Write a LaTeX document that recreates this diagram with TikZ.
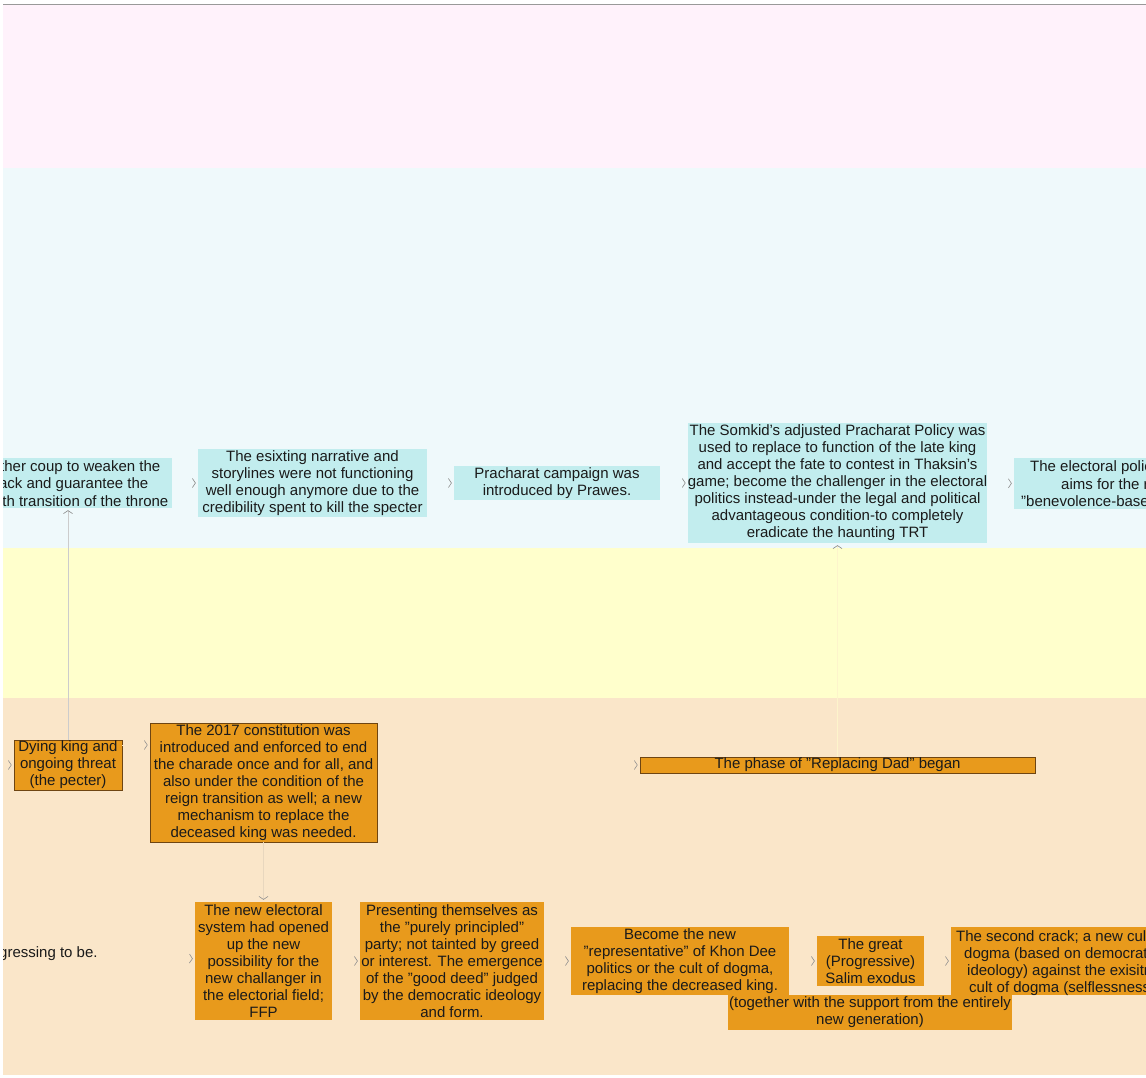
\documentclass[tikz,border=0pt]{standalone}
\usepackage{fontspec}
\setmainfont{Liberation Sans}
\usetikzlibrary{arrows.meta,calc}

\definecolor{pinkband}{HTML}{FFF2FB}
\definecolor{cyanband}{HTML}{EFF9FB}
\definecolor{yellowband}{HTML}{FFFFCC}
\definecolor{peachband}{HTML}{FAE6C9}
\definecolor{cyanbox}{HTML}{C2EDEE}
\definecolor{orangebox}{HTML}{E89A1C}
\definecolor{orangeedge}{HTML}{6E4512}
\definecolor{ink}{HTML}{1A1A1A}
\definecolor{tipgray}{HTML}{8C8C8C}

\newcommand\boxfont{\fontsize{15}{17}\selectfont}

\tikzset{
  x=1pt, y=-1pt,
  >={Straight Barb[length=3pt,width=9pt,line width=0.6pt,color=tipgray]},
  cbox/.style={fill=cyanbox, draw=none, align=center, inner sep=0pt,
    font=\boxfont, text=ink},
  obox/.style={fill=orangebox, draw=none, align=center, inner sep=0pt,
    font=\boxfont, text=ink},
  oedge/.style={obox, draw=orangeedge, line width=0.7pt},
  frag/.style={inner sep=0pt, font=\boxfont, text=ink},
  link/.style={->, draw=#1, line width=0.6pt, shorten >=2pt},
  link/.default=cyanband
}

\begin{document}
\begin{tikzpicture}
\useasboundingbox (0,0) rectangle (1146,1078);

% frame rule on top
\draw[gray!80, line width=1pt] (3,4.5) -- (1146,4.5);

\begin{scope}
\clip (3,5) rectangle (1146,1075);

% swim lanes
\fill[pinkband]   (3,5)   rectangle (1146,168);
\fill[cyanband]   (3,168) rectangle (1146,548);
\fill[yellowband] (3,548) rectangle (1146,698);
\fill[peachband]  (3,698) rectangle (1146,1075);

% ---- upper lane ----
\node[cbox, minimum width=169pt, minimum height=50pt] (b1) at (87.5,483) {};
\node[frag, anchor=east] (b1a) at (160.5,467.5) {ther coup to weaken the};
\node[frag, anchor=east] (b1b) at (148.5,484.5) {ack and guarantee the};
\node[frag, anchor=east] (b1c) at (168.5,501.5) {th transition of the throne};

\node[cbox, minimum width=229pt, minimum height=68pt] (b2) at (312.5,483)
  {The esixting narrative and\\storylines were not functioning\\well enough anymore due to the\\credibility spent to kill the specter};

\node[cbox, minimum width=206pt, minimum height=34pt] (b3) at (557,483)
  {Pracharat campaign was\\introduced by Prawes.};

\node[cbox, minimum width=299pt, minimum height=120pt] (b4) at (837.5,483)
  {The Somkid's adjusted Pracharat Policy was\\used to replace to function of the late king\\and accept the fate to contest in Thaksin's\\game; become the challenger in the electoral\\politics instead-under the legal and political\\advantageous condition-to completely\\eradicate the haunting TRT};

\node[cbox, minimum width=132pt, minimum height=51pt] (b5) at (1080,483.5) {};
\node[frag, anchor=west] (b5a) at (1030,467.5) {The electoral polic};
\node[frag, anchor=west] (b5b) at (1061,484.5) {aims for the r};
\node[frag, anchor=west] (b5c) at (1021,501.5) {"benevolence-base};

% ---- lower lane ----
\node[oedge, minimum width=108pt, minimum height=50pt] (dying) at (68,765)
  {Dying king and\\ongoing threat\\(the pecter)};

\node[oedge, minimum width=227pt, minimum height=119pt] (const) at (263.5,782.5)
  {The 2017 constitution was\\introduced and enforced to end\\the charade once and for all, and\\also under the condition of the\\reign transition as well; a new\\mechanism to replace the\\deceased king was needed.};

\node[oedge, minimum width=395pt, minimum height=16pt] (phase) at (837.5,765)
  {The phase of "Replacing Dad" began};

\node[frag, anchor=west] (prog) at (-1,954) {gressing to be.};

\node[obox, minimum width=137pt, minimum height=118pt] (newel) at (263.5,961)
  {The new electoral\\system had opened\\up the new\\possibility for the\\new challanger in\\the electorial field;\\FFP};

\node[obox, minimum width=184pt, minimum height=118pt] (present) at (452,961)
  {Presenting themselves as\\the "purely principled"\\party; not tainted by greed\\or interest. The emergence\\of the "good deed" judged\\by the democratic ideology\\and form.};

\node[obox, minimum width=284pt, minimum height=35pt] (together) at (870,1012.5)
  {(together with the support from the entirely\\new generation)};

\node[obox, minimum width=218pt, minimum height=68pt] (become) at (680,961)
  {Become the new\\"representative" of Khon Dee\\politics or the cult of dogma,\\replacing the decreased king.};

\node[obox, minimum width=107pt, minimum height=50pt] (great) at (870.5,961)
  {The great\\(Progressive)\\Salim exodus};

\node[obox, minimum width=195pt, minimum height=68pt] (crack) at (1048.5,961) {};
\node[frag, anchor=west] (cra) at (956,937.5) {The second crack; a new cul};
\node[frag, anchor=west] (crb) at (964,954.5) {dogma (based on democrat};
\node[frag, anchor=west] (crc) at (967,971.5) {ideology) against the exisitr};
\node[frag, anchor=west] (crd) at (969,988.5) {cult of dogma (selflessness};

% ---- connectors ----
\coordinate (dyingin) at (-30,765);
\coordinate (phasein) at (590,765);

\draw[link] (b1) -- (b2);
\draw[link] (b2) -- (b3);
\draw[link] (b3) -- (b4);
\draw[link] (b4) -- (b5);

\draw[link=gray!40] (dying.north) -- (dying.north |- b1.south);
\draw[link=peachband] (dyingin) -- (dying.west);
\draw[link=peachband] (dying.east |- 0,745) -- (const.west |- 0,745);
\draw[link=peachband!85!gray] (const.south) -- (newel.north);
\draw[link=peachband] (phasein) -- (phase.west);
\draw[link=yellowband!55!peachband, line width=0.4pt] (phase.north) -- (b4.south);

\draw[link=peachband] (prog) -- (newel);
\draw[link=peachband] (newel) -- (present);
\draw[link=peachband] (present) -- (become);
\draw[link=peachband] (become) -- (great);
\draw[link=peachband] (great) -- (crack);
\end{scope}
\end{tikzpicture}
\end{document}
